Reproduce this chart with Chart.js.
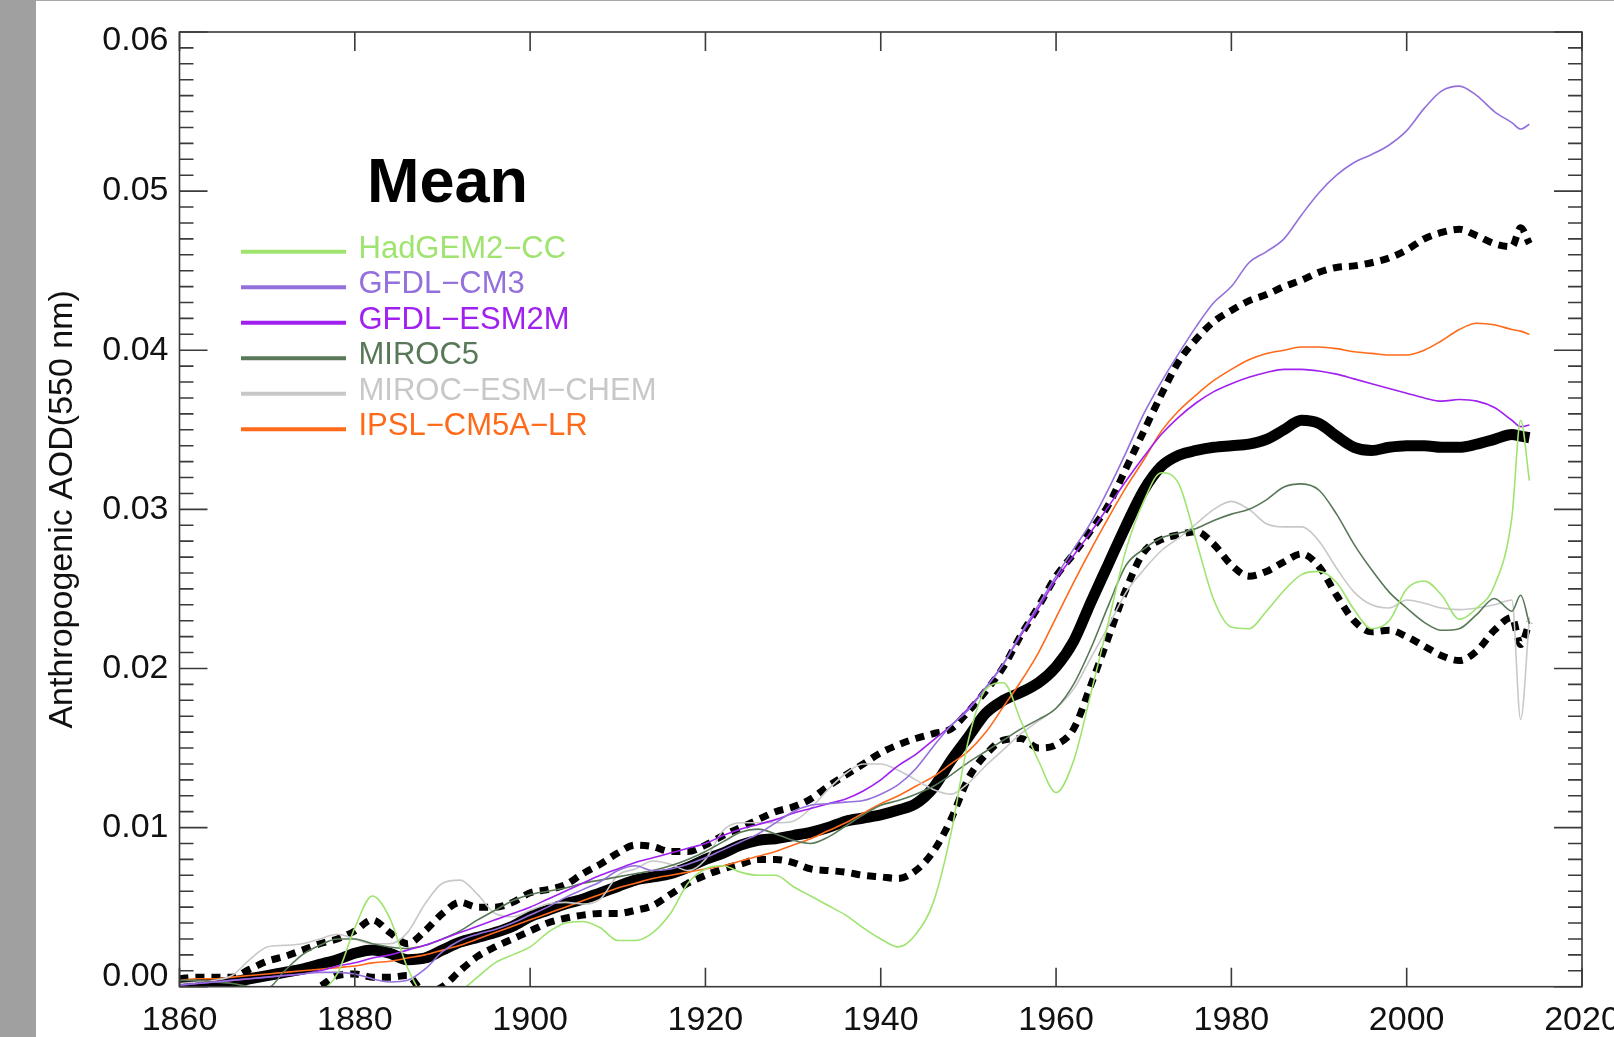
<!DOCTYPE html>
<html>
<head>
<meta charset="utf-8">
<script src="https://cdn.jsdelivr.net/npm/chart.js@4/dist/chart.umd.min.js"></script>
<style>
  html, body { margin: 0; padding: 0; background: #fff; }
  #greyBar { position: absolute; left: 0; top: 0; width: 36px; height: 1037px; background: #a0a0a0; }
  #topLine { position: absolute; left: 36px; top: 0; width: 1578px; height: 1px; background: #a8a8a8; }
  #aodChart { position: absolute; left: 0; top: 0; }
</style>
</head>
<body>
<div id="greyBar"></div>
<div id="topLine"></div>
<canvas id="aodChart" width="1614" height="1037"></canvas>
<script>
// Anthropogenic AOD (550 nm), CMIP5 models, 1860-2014

const years = [
  1860, 1862, 1864, 1866, 1868, 1870, 1872, 1874, 1876, 1878,
  1880, 1882, 1884, 1886, 1888, 1890, 1892, 1894, 1896, 1898,
  1900, 1902, 1904, 1906, 1908, 1910, 1912, 1914, 1916, 1918,
  1920, 1922, 1924, 1926, 1928, 1930, 1932, 1934, 1936, 1938,
  1940, 1942, 1944, 1946, 1948, 1950, 1952, 1954, 1956, 1958,
  1960, 1962, 1964, 1966, 1968, 1970, 1972, 1974, 1976, 1978,
  1980, 1982, 1984, 1986, 1988, 1990, 1992, 1994, 1996, 1998,
  2000, 2002, 2004, 2006, 2008, 2010, 2012, 2013, 2014
];

const modelNames = ['HadGEM2\u2212CC', 'GFDL\u2212CM3', 'GFDL\u2212ESM2M', 'MIROC5', 'MIROC\u2212ESM\u2212CHEM', 'IPSL\u2212CM5A\u2212LR'];
const modelColors = ['#9ee46f', '#9370db', '#a020f0', '#587858', '#c8c8c8', '#ff6a1a'];

const hadgem2cc = [
  -0.0006, -0.0006, -0.0006, -0.0006, -0.0006, -0.0006, -0.0006, -0.0006, -0.0003, 0.0008,
  0.0037, 0.0057, 0.0043, 0.0012, -0.0006, -0.0008, -0.0003, 0.0006, 0.0015, 0.0020,
  0.0025, 0.0034, 0.0040, 0.0041, 0.0037, 0.0029, 0.0029, 0.0034, 0.0046, 0.0065,
  0.0074, 0.0076, 0.0072, 0.0070, 0.0070, 0.0063, 0.0057, 0.0051, 0.0045, 0.0037,
  0.0030, 0.0025, 0.0033, 0.0053, 0.0096, 0.0155, 0.0187, 0.0191, 0.0167, 0.0142,
  0.0122, 0.0142, 0.0185, 0.0230, 0.0275, 0.0305, 0.0323, 0.0316, 0.0280, 0.0243,
  0.0226, 0.0225, 0.0236, 0.0249, 0.0259, 0.0261, 0.0254, 0.0237, 0.0225, 0.0230,
  0.0250, 0.0255, 0.0246, 0.0231, 0.0238, 0.0252, 0.0295, 0.0356, 0.0318
];

const gfdlCm3 = [
  0.0001, 0.0002, 0.0003, 0.0004, 0.0005, 0.0006, 0.0007, 0.0008, 0.0009, 0.0009,
  0.0008, 0.0005, 0.0003, 0.0004, 0.0011, 0.0022, 0.0029, 0.0033, 0.0036, 0.0040,
  0.0045, 0.0050, 0.0056, 0.0061, 0.0066, 0.0073, 0.0076, 0.0073, 0.0074, 0.0077,
  0.0081, 0.0086, 0.0091, 0.0096, 0.0103, 0.0110, 0.0114, 0.0115, 0.0116, 0.0117,
  0.0121, 0.0127, 0.0137, 0.0151, 0.0164, 0.0174, 0.0188, 0.0203, 0.0222, 0.0240,
  0.0258, 0.0275, 0.0292, 0.0313, 0.0336, 0.0360, 0.0380, 0.0398, 0.0415, 0.0430,
  0.0440, 0.0455, 0.0462, 0.0470, 0.0485, 0.0499, 0.0510, 0.0518, 0.0523, 0.0529,
  0.0538, 0.0552, 0.0563, 0.0566, 0.0560, 0.0550, 0.0543, 0.0539, 0.0542
];

const gfdlEsm2m = [
  0.0001, 0.0002, 0.0003, 0.0004, 0.0005, 0.0006, 0.0007, 0.0008, 0.0010, 0.0013,
  0.0015, 0.0018, 0.0020, 0.0023, 0.0026, 0.0030, 0.0034, 0.0038, 0.0042, 0.0046,
  0.0050, 0.0055, 0.0060, 0.0065, 0.0070, 0.0074, 0.0078, 0.0081, 0.0084, 0.0087,
  0.0090, 0.0095, 0.0099, 0.0102, 0.0105, 0.0109, 0.0112, 0.0115, 0.0118, 0.0123,
  0.0130, 0.0139, 0.0146, 0.0155, 0.0164, 0.0175, 0.0188, 0.0203, 0.0221, 0.0238,
  0.0256, 0.0271, 0.0286, 0.0302, 0.0318, 0.0333, 0.0347, 0.0358, 0.0367, 0.0374,
  0.0379, 0.0383, 0.0386, 0.0388, 0.0388, 0.0387, 0.0385, 0.0382, 0.0379, 0.0376,
  0.0373, 0.0370, 0.0368, 0.0369, 0.0368, 0.0364, 0.0356, 0.0352, 0.0353
];

const miroc5 = [
  0.0004, 0.0004, 0.0003, 0.0002, 0.0000, -0.0001, 0.0010, 0.0020, 0.0026, 0.0030,
  0.0030, 0.0027, 0.0025, 0.0024, 0.0026, 0.0030, 0.0035, 0.0042, 0.0048, 0.0054,
  0.0058, 0.0060, 0.0062, 0.0065, 0.0067, 0.0069, 0.0071, 0.0073, 0.0076, 0.0080,
  0.0085, 0.0091, 0.0097, 0.0099, 0.0096, 0.0092, 0.0090, 0.0094, 0.0101, 0.0108,
  0.0114, 0.0117, 0.0121, 0.0126, 0.0133, 0.0141, 0.0148, 0.0155, 0.0162, 0.0168,
  0.0175, 0.0190, 0.0213, 0.0240, 0.0265, 0.0275, 0.0282, 0.0285, 0.0288, 0.0293,
  0.0297, 0.0300, 0.0306, 0.0314, 0.0316, 0.0312, 0.0297, 0.0278, 0.0262, 0.0248,
  0.0238, 0.0229, 0.0224, 0.0225, 0.0234, 0.0244, 0.0236, 0.0246, 0.0228
];

const mirocEsmChem = [
  0.0002, 0.0003, 0.0004, 0.0007, 0.0017, 0.0025, 0.0026, 0.0027, 0.0030, 0.0033,
  0.0030, 0.0027, 0.0027, 0.0034, 0.0052, 0.0065, 0.0067, 0.0058, 0.0046, 0.0044,
  0.0048, 0.0052, 0.0053, 0.0052, 0.0055, 0.0070, 0.0074, 0.0079, 0.0077, 0.0073,
  0.0080, 0.0098, 0.0103, 0.0103, 0.0103, 0.0104, 0.0112, 0.0124, 0.0134, 0.0140,
  0.0140, 0.0136, 0.0130, 0.0124, 0.0121, 0.0128, 0.0139, 0.0149, 0.0159, 0.0167,
  0.0175, 0.0187, 0.0207, 0.0227, 0.0248, 0.0262, 0.0274, 0.0282, 0.0291, 0.0300,
  0.0305, 0.0300, 0.0291, 0.0289, 0.0289, 0.0280, 0.0263, 0.0248, 0.0240, 0.0238,
  0.0243, 0.0241, 0.0238, 0.0237, 0.0238, 0.0240, 0.0243, 0.0168, 0.0232
];

const ipslCm5aLr = [
  0.0004, 0.0005, 0.0005, 0.0006, 0.0007, 0.0008, 0.0009, 0.0010, 0.0011, 0.0012,
  0.0013, 0.0015, 0.0016, 0.0018, 0.0020, 0.0023, 0.0026, 0.0030, 0.0034, 0.0038,
  0.0042, 0.0046, 0.0050, 0.0054, 0.0058, 0.0062, 0.0065, 0.0068, 0.0070, 0.0072,
  0.0074, 0.0076, 0.0079, 0.0082, 0.0085, 0.0089, 0.0093, 0.0098, 0.0103, 0.0109,
  0.0115, 0.0120, 0.0126, 0.0132, 0.0140, 0.0148, 0.0160, 0.0176, 0.0192, 0.0210,
  0.0232, 0.0254, 0.0275, 0.0295, 0.0314, 0.0331, 0.0349, 0.0362, 0.0372, 0.0381,
  0.0388, 0.0394, 0.0398, 0.0400, 0.0402, 0.0402, 0.0401, 0.0399, 0.0398, 0.0397,
  0.0397, 0.0400, 0.0406, 0.0413, 0.0417, 0.0416, 0.0413, 0.0412, 0.0410
];

const meanAod = [
  0.0001, 0.0001, 0.0002, 0.0003, 0.0005, 0.0007, 0.0009, 0.0011, 0.0014, 0.0017,
  0.0021, 0.0023, 0.0021, 0.0017, 0.0018, 0.0023, 0.0028, 0.0031, 0.0034, 0.0038,
  0.0044, 0.0048, 0.0052, 0.0055, 0.0059, 0.0063, 0.0067, 0.0069, 0.0071, 0.0075,
  0.0080, 0.0084, 0.0089, 0.0092, 0.0093, 0.0095, 0.0097, 0.0100, 0.0104, 0.0106,
  0.0108, 0.0111, 0.0115, 0.0125, 0.0142, 0.0157, 0.0172, 0.0180, 0.0185, 0.0191,
  0.0201, 0.0217, 0.0242, 0.0266, 0.0290, 0.0312, 0.0327, 0.0334, 0.0337, 0.0339,
  0.0340, 0.0341, 0.0344, 0.0350, 0.0356, 0.0354, 0.0346, 0.0339, 0.0337, 0.0339,
  0.0340, 0.0340, 0.0339, 0.0339, 0.0341, 0.0344, 0.0347, 0.0346, 0.0345
];

const meanPlusStd = [
  0.0005, 0.0006, 0.0006, 0.0006, 0.0011, 0.0016, 0.0019, 0.0023, 0.0027, 0.0030,
  0.0035, 0.0042, 0.0034, 0.0027, 0.0035, 0.0046, 0.0053, 0.0050, 0.0050, 0.0053,
  0.0059, 0.0061, 0.0064, 0.0071, 0.0077, 0.0084, 0.0089, 0.0088, 0.0085, 0.0085,
  0.0089, 0.0095, 0.0100, 0.0105, 0.0110, 0.0113, 0.0118, 0.0126, 0.0133, 0.0140,
  0.0147, 0.0152, 0.0156, 0.0159, 0.0162, 0.0173, 0.0186, 0.0201, 0.0221, 0.0239,
  0.0258, 0.0272, 0.0287, 0.0303, 0.0326, 0.0349, 0.0372, 0.0393, 0.0407, 0.0418,
  0.0425, 0.0431, 0.0435, 0.0440, 0.0444, 0.0449, 0.0452, 0.0453, 0.0455, 0.0458,
  0.0463, 0.0470, 0.0474, 0.0476, 0.0472, 0.0467, 0.0465, 0.0477, 0.0467
];

const meanMinusStd = [
  -0.0006, -0.0006, -0.0006, -0.0006, -0.0006, -0.0006, -0.0006, -0.0005, 0.0000, 0.0007,
  0.0008, 0.0006, 0.0006, 0.0007, -0.0004, 0.0000, 0.0010, 0.0019, 0.0025, 0.0030,
  0.0035, 0.0040, 0.0043, 0.0045, 0.0046, 0.0046, 0.0048, 0.0051, 0.0058, 0.0065,
  0.0070, 0.0074, 0.0077, 0.0080, 0.0080, 0.0078, 0.0074, 0.0073, 0.0072, 0.0070,
  0.0069, 0.0068, 0.0073, 0.0085, 0.0105, 0.0131, 0.0146, 0.0155, 0.0156, 0.0150,
  0.0152, 0.0162, 0.0190, 0.0220, 0.0250, 0.0273, 0.0281, 0.0284, 0.0286, 0.0278,
  0.0265, 0.0258, 0.0261, 0.0267, 0.0272, 0.0264, 0.0246, 0.0230, 0.0223, 0.0224,
  0.0220, 0.0214, 0.0208, 0.0205, 0.0211, 0.0224, 0.0232, 0.0215, 0.0229
];

const modelSeries = [hadgem2cc, gfdlCm3, gfdlEsm2m, miroc5, mirocEsmChem, ipslCm5aLr];

const FONT = "'Liberation Sans', Arial, Helvetica, sans-serif";

function toPoints(values) {
    return years.map((yr, i) => ({ x: yr, y: values[i] }));
}

// nudge the end labels of the y axis inside the frame, like the original plot
const endLabelPlugin = {
    id: 'endLabels',
    beforeDraw(chart) {
        const items = chart.scales.y.getLabelItems(chart.chartArea);
        if (!items.length) return;
        items[0].options.translation[1] -= 10.5;
        items[items.length - 1].options.translation[1] += 9;
    }
};

// frame, inward ticks, legend and the "Mean" heading
const framePlugin = {
    id: 'aodFrame',
    afterDraw(chart) {
        const { ctx, chartArea: a, scales: { x, y } } = chart;
        ctx.save();
        ctx.strokeStyle = '#3a3a3a';
        ctx.lineWidth = 1.6;
        ctx.strokeRect(a.left, a.top, a.right - a.left, a.bottom - a.top);

        ctx.beginPath();
        x.ticks.forEach(t => {
            const px = x.getPixelForValue(t.value);
            ctx.moveTo(px, a.bottom); ctx.lineTo(px, a.bottom - 19);
            ctx.moveTo(px, a.top); ctx.lineTo(px, a.top + 19);
        });
        for (let k = 0; k <= 60; k++) {
            const py = y.getPixelForValue(k / 1000);
            const len = k % 10 === 0 ? 28 : 14;
            ctx.moveTo(a.left, py); ctx.lineTo(a.left + len, py);
            ctx.moveTo(a.right, py); ctx.lineTo(a.right - len, py);
        }
        ctx.stroke();

        // heading
        ctx.fillStyle = '#000';
        ctx.font = `bold 63px ${FONT}`;
        ctx.textBaseline = 'alphabetic';
        ctx.fillText('Mean', 367, 202);

        // legend
        ctx.font = `31px ${FONT}`;
        modelNames.forEach((name, i) => {
            const ly = 251.7 + i * 35.5;
            ctx.strokeStyle = modelColors[i];
            ctx.lineWidth = 4;
            ctx.beginPath();
            ctx.moveTo(241, ly);
            ctx.lineTo(346, ly);
            ctx.stroke();
            ctx.fillStyle = modelColors[i];
            ctx.fillText(name, 358.5, ly + 6);
        });
        ctx.restore();
    }
};

const modelSets = modelSeries.map((vals, i) => ({
    label: modelNames[i],
    data: toPoints(vals),
    borderColor: modelColors[i],
    borderWidth: 1.6
}));

const datasets = modelSets.concat([
    { label: 'Mean + 1 sd', data: toPoints(meanPlusStd), borderColor: '#000', borderWidth: 7, borderDash: [9, 7] },
    { label: 'Mean - 1 sd', data: toPoints(meanMinusStd), borderColor: '#000', borderWidth: 7, borderDash: [9, 7] },
    { label: 'Mean', data: toPoints(meanAod), borderColor: '#000', borderWidth: 11 }
]);

Chart.defaults.font.family = FONT;
Chart.defaults.color = '#111';

new Chart(document.getElementById('aodChart').getContext('2d'), {
    type: 'line',
    data: { datasets },
    options: {
        responsive: false,
        animation: false,
        events: [],
        layout: { padding: { left: 36, top: 32, right: 32, bottom: 0 } },
        elements: {
            point: { radius: 0 },
            line: { fill: false, cubicInterpolationMode: 'monotone', borderCapStyle: 'butt' }
        },
        plugins: { legend: { display: false }, tooltip: { enabled: false } },
        scales: {
            x: {
                type: 'linear',
                min: 1860,
                max: 2020,
                grid: { display: false, drawTicks: false },
                border: { display: false },
                ticks: {
                    stepSize: 20,
                    padding: 14,
                    autoSkip: false,
                    maxRotation: 0,
                    color: '#111',
                    font: { size: 34 },
                    callback: v => String(v)
                },
                afterFit: s => { s.height = 1037 - 986.7; s.paddingLeft = 0; s.paddingRight = 0; }
            },
            y: {
                min: 0,
                max: 0.06,
                grid: { display: false, drawTicks: false },
                border: { display: false },
                ticks: {
                    stepSize: 0.01,
                    padding: 11,
                    color: '#111',
                    font: { size: 34 },
                    callback: v => v.toFixed(2)
                },
                title: {
                    display: true,
                    text: 'Anthropogenic AOD(550 nm)',
                    color: '#111',
                    font: { size: 34 },
                    padding: { top: 6, bottom: 0 }
                },
                afterFit: s => { s.width = 179.5 - 36; s.paddingTop = 0; s.paddingBottom = 0; }
            }
        }
    },
    plugins: [endLabelPlugin, framePlugin]
});
</script>
</body>
</html>
